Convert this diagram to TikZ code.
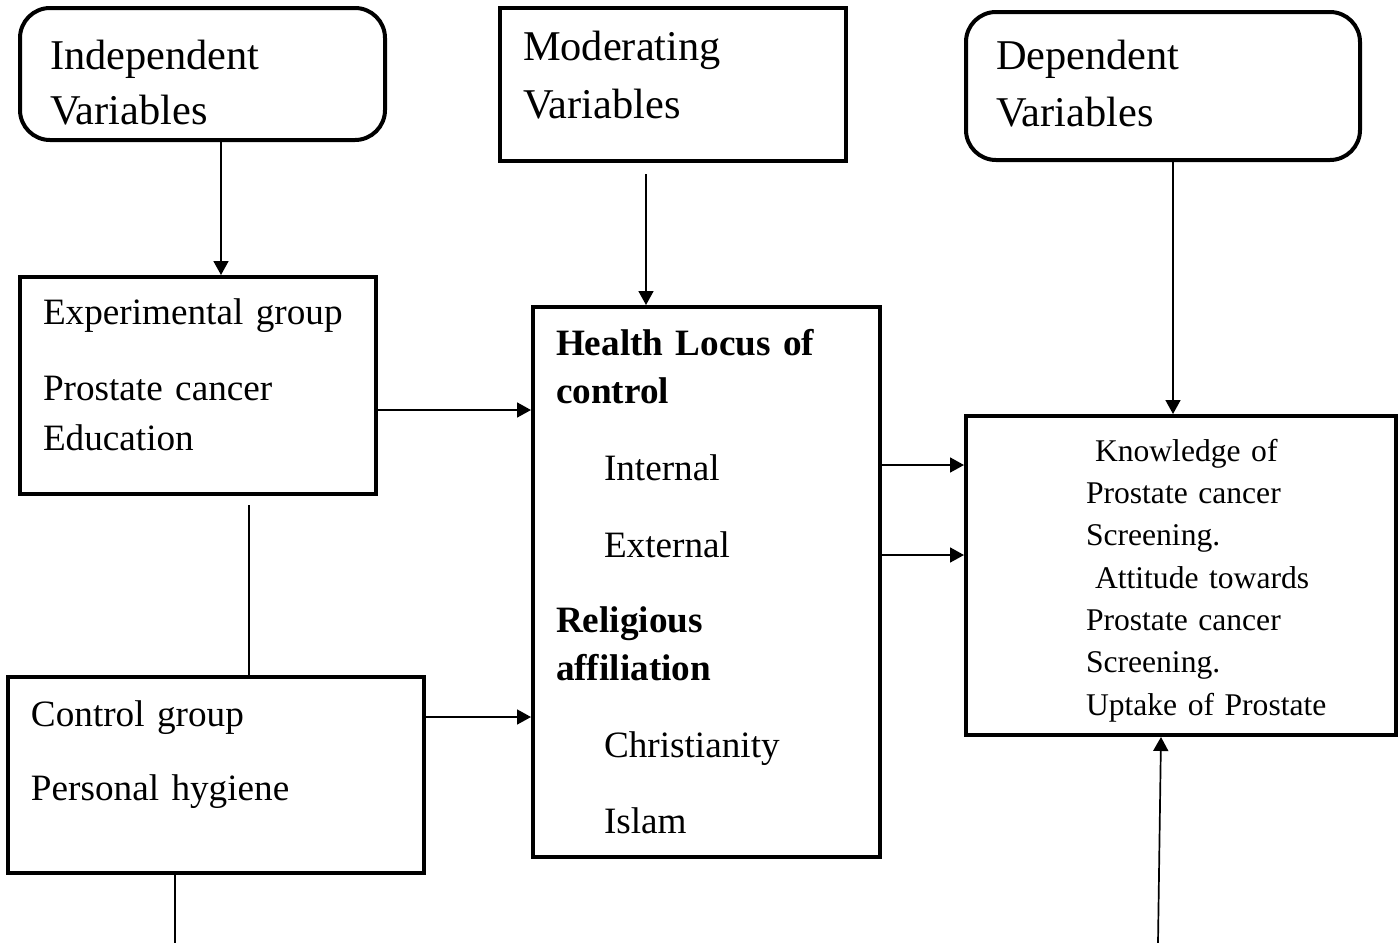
\documentclass[tikz,border=0pt]{standalone}
\usepackage{fontspec}
\setmainfont{Liberation Serif}
\usetikzlibrary{arrows.meta,positioning,calc}

\newcommand{\lift}[1]{\par\vspace{#1}\kern0pt}

\begin{document}
\begin{tikzpicture}[x=0.5pt, y=-0.5pt,
  box/.style={rectangle, draw, line width=2pt, align=left, inner ysep=0pt, inner xsep=11.5pt,
    font=\fontsize{18.6pt}{25pt}\selectfont},
  head/.style={box, font=\fontsize{21.2pt}{26.5pt}\selectfont},
  outbox/.style={box, inner xsep=0pt, font=\fontsize{15.8pt}{21.15pt}\selectfont},
  arr/.style={-{Triangle[length=7pt,width=7.5pt]}, line width=0.85pt},
  link/.style={line width=0.85pt}
]
  \useasboundingbox (0,0) rectangle (1399,943);

  % top row
  \node[head, rounded corners=15pt, inner xsep=15pt, minimum width=182.5pt, minimum height=66pt, text width=152.5pt]
    (indep) at (202.5,74) {Independent\\[1pt]Variables\lift{-9pt}};
  \node[head, minimum width=173pt, minimum height=76.5pt, text width=150pt]
    (moder) at (673,84.5) {Moderating\\[2.5pt]Variables\lift{9pt}};
  \node[head, rounded corners=15pt, inner xsep=15pt, minimum width=197pt, minimum height=74pt, text width=167pt]
    (dep) at (1163,86) {Dependent\\[2pt]Variables\lift{2pt}};

  % groups
  \node[box, minimum width=178pt, minimum height=108.5pt, text width=155pt]
    (expg) at (198,385.5) {Experimental group\\[13pt]Prostate cancer\\Education\lift{10.5pt}};
  \node[box, minimum width=208pt, minimum height=98pt, text width=185pt]
    (ctrl) at (216,775) {Control group\\[12pt]Personal hygiene\lift{20pt}};

  % moderators
  \node[box, font=\fontsize{18.6pt}{24pt}\selectfont, minimum width=173.5pt, minimum height=275pt, text width=150.5pt]
    (hlc) at (706.5,582) {\textbf{Health Locus of}\\\textbf{control}\\[14.5pt]
      \hspace*{24pt}Internal\\[14.5pt]
      \hspace*{24pt}External\\[13.5pt]
      \textbf{Religious}\\\textbf{affiliation}\\[14.5pt]
      \hspace*{24pt}Christianity\\[14pt]
      \hspace*{24pt}Islam};

  % outcomes
  \node[outbox, minimum width=215pt, minimum height=159.5pt, text width=215pt]
    (outc) at (1181,575.5) {\leftskip=60pt\relax
      \hspace*{4.5pt}Knowledge of\\Prostate cancer\\Screening.\\
      \hspace*{4.5pt}Attitude towards\\Prostate cancer\\Screening.\\
      Uptake of Prostate\lift{-5pt}};

  \coordinate (ctrlend) at (175,943);
  \coordinate (outcend) at (1158,943);

  % connectors
  \draw[arr] (indep.south -| 221,0) -- (expg.north -| 221,0);
  \draw[arr, shorten <=5.5pt] (moder.south -| 646,0) -- (hlc.north -| 646,0);
  \draw[arr] (dep.south -| 1173,0) -- (outc.north -| 1173,0);
  \draw[arr] (expg.east |- 0,410) -- (hlc.west |- 0,410);
  \draw[arr] (ctrl.east |- 0,717) -- (hlc.west |- 0,717);
  \draw[arr] (hlc.east |- 0,465) -- (outc.west |- 0,465);
  \draw[arr] (hlc.east |- 0,555) -- (outc.west |- 0,555);
  \draw[link, shorten <=4.5pt] (expg.south -| 249,0) -- (ctrl.north -| 249,0);
  \draw[link] (ctrl.south -| 175,0) -- (ctrlend);
  \draw[arr] (outcend) -- (outc.south -| 1161,0);
\end{tikzpicture}
\end{document}
